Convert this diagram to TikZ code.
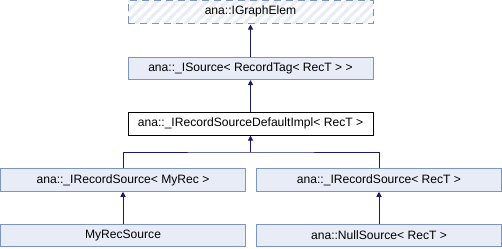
\documentclass[tikz,border=0pt]{standalone}
\usepackage{fontspec}
\setmainfont{Liberation Sans}
\usetikzlibrary{arrows.meta,patterns.meta}
\definecolor{boxfill}{HTML}{E8ECF6}
\definecolor{boxline}{HTML}{7C95C6}
\definecolor{edgecol}{HTML}{191970}
\tikzset{
  cls/.style={draw=boxline, fill=boxfill, line width=1bp, minimum width=245bp,
    minimum height=22.5bp, inner sep=0pt, font=\fontsize{12.1bp}{14bp}\selectfont},
  curcls/.style={cls, draw=black, fill=white},
  extcls/.style={cls, fill=none, dash pattern=on 7bp off 5bp,
    preaction={fill=white},
    pattern={Lines[angle=45,distance=7bp,line width=3bp]}, pattern color=boxfill},
  inh/.style={draw=edgecol, line width=1bp,
    -{Triangle[length=5bp,width=5bp]}},
  link/.style={draw=edgecol, line width=1bp},
}
\begin{document}
\begin{tikzpicture}[x=1bp,y=-1bp]
  \fill[white] (0,0) rectangle (502,248);
  \useasboundingbox (0,0) rectangle (502,248);
  % class boxes
  \node[extcls] (elem) at (250.5,11.8) {ana::IGraphElem};
  \node[cls]    (isrc) at (250.5,68.3) {ana::\_ISource< RecordTag< RecT > >};
  \node[curcls] (impl) at (250.5,123.8) {ana::\_IRecordSourceDefaultImpl< RecT >};
  \node[cls]    (lrs)  at (123,180) {ana::\_IRecordSource< MyRec >};
  \node[cls]    (rrs)  at (379,180) {ana::\_IRecordSource< RecT >};
  \node[cls]    (myrec) at (123,235.5) {MyRecSource};
  \node[cls]    (null) at (379,235.5) {ana::NullSource< RecT >};
  % inheritance edges
  \coordinate (fork) at (impl.south |- 0,152);
  \draw[inh] (isrc.north) -- (elem.south);
  \draw[inh] (impl.north) -- (isrc.south);
  \draw[inh] (fork) -- (impl.south);
  \draw[link] (lrs.north) |- (fork) -| (rrs.north);
  \draw[inh] (myrec.north) -- (lrs.south);
  \draw[inh] (null.north) -- (rrs.south);
\end{tikzpicture}
\end{document}
